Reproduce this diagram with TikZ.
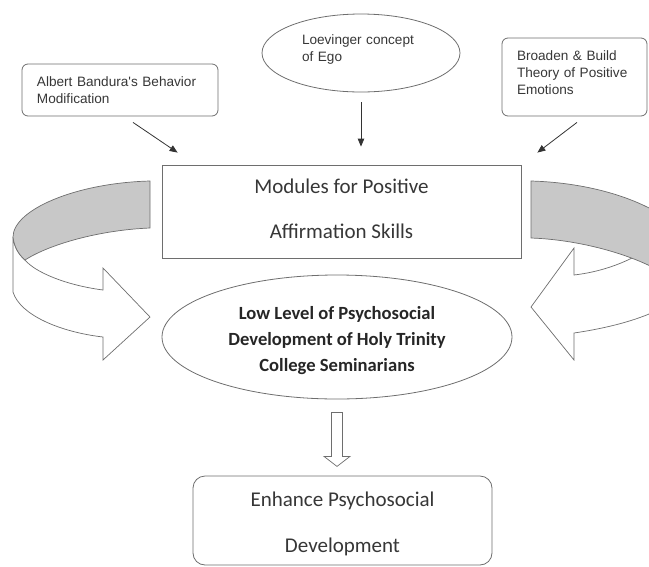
\documentclass[tikz,border=0pt]{standalone}
\usepackage{fontspec}
\newfontfamily\arialf{Liberation Sans}
\newfontfamily\calf{Carlito}
\usetikzlibrary{shapes.geometric,arrows.meta,calc}
\definecolor{lc}{RGB}{110,110,110}
\definecolor{bandgray}{RGB}{200,200,200}
\definecolor{txt}{RGB}{55,55,55}
\newcommand\liftby[2]{\raisebox{#1}[\height][\depth]{#2}}
\begin{document}
\begin{tikzpicture}[x=1pt,y=-1pt,
  srcbox/.style={draw=lc, line width=0.8pt, rounded corners=6pt, fill=white,
    font=\arialf\fontsize{13.6}{17}\selectfont, text=txt, align=left, inner xsep=15pt, inner ysep=0pt},
  srcell/.style={draw=lc, line width=0.8pt, ellipse, inner sep=0pt, fill=white,
    font=\arialf\fontsize{13.6}{17}\selectfont, text=txt, align=left},
  mainbox/.style={draw=lc, line width=0.8pt, fill=white, inner sep=0pt,
    font=\calf\fontsize{21}{45}\selectfont, text=txt, align=center},
  probell/.style={draw=lc, line width=0.8pt, ellipse, inner sep=0pt, fill=white,
    font=\calf\bfseries\fontsize{18.6}{26}\selectfont, text=black!85, align=center},
  outbox/.style={draw=lc, line width=0.8pt, rounded corners=12pt, fill=white, inner sep=0pt,
    font=\calf\fontsize{21}{46}\selectfont, text=txt, align=center},
  conn/.style={draw=black!80, line width=0.8pt, -{Triangle[length=8pt,width=6.5pt]}},
  band/.style={draw=lc, line width=0.7pt},
]
\useasboundingbox (0,0) rectangle (649,566);

% curved arrows
\begin{scope}
\clip (0,0) rectangle (649,566);
% left
\draw[band, fill=white] (13,237) -- (13,292) .. controls (20,315) and (60,332) .. (103,337)
  -- (103,360) -- (150,317) -- (103,268) -- (103,290)
  .. controls (65,285) and (35,272) .. (25,260) .. controls (18,254) and (14,246) .. (13,237) -- cycle;
\draw[band, fill=bandgray] (150,181) .. controls (75,183) and (13,210) .. (13,237)
  .. controls (14,246) and (18,254) .. (25,260) .. controls (50,244) and (100,230) .. (150,228) -- cycle;
% right
\draw[band, fill=white] (574,275) -- (574,248) -- (531,307) -- (574,360) -- (574,333)
  .. controls (615,327) and (660,315) .. (680,295) -- (680,258) -- (632,258)
  .. controls (620,264) and (600,272) .. (574,275) -- cycle;
\draw[band, fill=bandgray] (531,181) .. controls (600,183) and (660,205) .. (685,235)
  -- (685,290) .. controls (660,262) and (590,240) .. (531,238) -- cycle;
\end{scope}

% source nodes
\node[srcbox, text width=166pt, minimum height=52pt] (alb) at (120,90)
  {Albert Bandura's Behavior\\Modification};
\node[srcell, text width=118pt, minimum width=198pt, minimum height=78pt] (loe) at (361,53)
  {\liftby{3.5pt}{Loevinger concept}\\\liftby{3.5pt}{of Ego}};
\node[srcbox, text width=115pt, minimum height=78pt] (brd) at (574.5,77)
  {\liftby{4pt}{Broaden \& Build}\\\liftby{4pt}{Theory of Positive}\\\liftby{4pt}{Emotions}};

% main nodes
\node[mainbox, minimum width=359pt, minimum height=93pt] (mod) at (341.5,211.5)
  {\liftby{3pt}{Modules for Positive}\\\liftby{3pt}{Affirmation Skills}};
\node[probell, minimum width=350pt, minimum height=124pt] (low) at (337,337)
  {\liftby{-3.5pt}{Low Level of Psychosocial}\\\liftby{-3.5pt}{Development of Holy Trinity}\\\liftby{-3.5pt}{College Seminarians}};
\node[outbox, minimum width=299pt, minimum height=89pt] (enh) at (342.5,520.5)
  {\liftby{-3pt}{Enhance Psychosocial}\\\liftby{-3pt}{Development}};

% connectors
\draw[conn] ($(alb.south)+(13,6)$) -- ($(mod.north west)+(16,-12)$);
\draw[conn] ($(loe.south)+(0,10)$) -- ($(loe.south |- mod.north)+(0,-18)$);
\draw[conn] ($(brd.south)+(2.5,6)$) -- ($(mod.north east)+(16,-12)$);

% hollow arrow
\draw[lc, line width=0.7pt, fill=white]
  ($(low.south)+(-5.5,13)$) -- ($(low.south)+(5.5,13)$) -- ($(low.south)+(5.5,57)$)
  -- ($(low.south)+(13,57)$) -- ($(low.south)+(0,67)$) -- ($(low.south)+(-13,57)$)
  -- ($(low.south)+(-5.5,57)$) -- cycle;
\end{tikzpicture}
\end{document}
